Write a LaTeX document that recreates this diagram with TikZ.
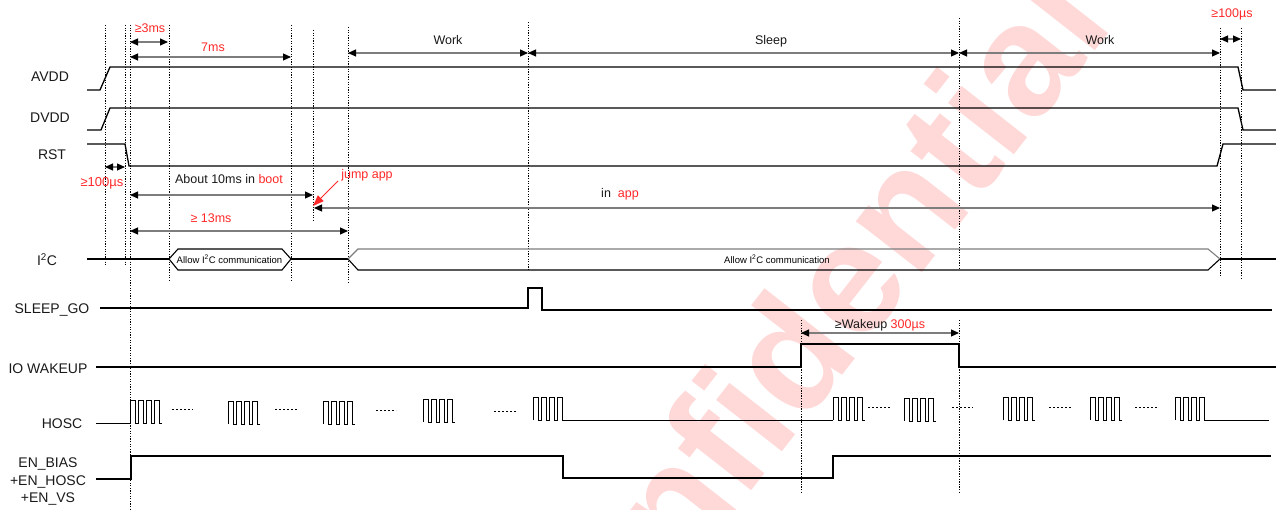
\documentclass[tikz,border=0pt]{standalone}
\usepackage{fontspec}
\setmainfont{Liberation Sans}
\usetikzlibrary{arrows.meta}
\definecolor{myred}{RGB}{255,40,40}
\definecolor{wmcol}{RGB}{255,216,216}
\definecolor{dimgray}{RGB}{125,125,125}
\newcommand\hoscB[3]{\draw[clk] (#1,#2) \foreach \k in {0,1,2,3} { -- (#1+\k*8,#3) -- (#1+\k*8+5,#3) -- (#1+\k*8+5,#2) -- (#1+\k*8+8,#2)};}
\begin{document}
\begin{tikzpicture}[x=1pt,y=-1pt,
  sig/.style={line width=1.3pt,black,line join=miter},
  clk/.style={line width=1pt,black},
  thick2/.style={line width=2.4pt,black},
  vdot/.style={line width=0.8pt,black,dash pattern=on 1.3pt off 1.3pt},
  dots/.style={line width=1pt,black,dash pattern=on 2.2pt off 1.8pt},
  dimarr/.style={draw=dimgray,line width=1.1pt,{Triangle[length=8pt,width=7pt,color=black]}-{Triangle[length=8pt,width=7pt,color=black]}},
  lab/.style={font=\fontsize{14}{16}\selectfont,anchor=base,inner sep=0pt,text=black!90},
  ann/.style={font=\fontsize{12.5}{14}\selectfont,anchor=base,inner sep=0pt,text=black!90},
  rann/.style={ann,text=myred},
  tinyl/.style={font=\fontsize{9.5}{11}\selectfont,anchor=base,inner sep=0pt},
  wmtext/.style={font=\fontsize{158}{158}\selectfont\bfseries,text=wmcol,inner sep=0pt}
]
\useasboundingbox (0,0) rectangle (1276,510);
% watermark
\begin{scope}
\clip (0,0) rectangle (1276,510);
\node[wmtext,rotate=52] (wmk) at (790,350) {Confidential};
\end{scope}

% vertical dotted guides
\draw[vdot] (105,25) -- (105,265);
\draw[vdot] (125,25) -- (125,265);
\draw[vdot] (130,25) -- (130,510);
\draw[vdot] (169,25) -- (169,282);
\draw[vdot] (291,25) -- (291,282);
\draw[vdot] (313,30) -- (313,220);
\draw[vdot] (348,27) -- (348,282);
\draw[vdot] (528,22) -- (528,270);
\draw[vdot] (959,18) -- (959,268);
\draw[vdot] (801,320) -- (801,492);
\draw[vdot] (959,320) -- (959,492);
\draw[vdot] (1220,28) -- (1220,276);
\draw[vdot] (1241,28) -- (1241,278);

% dimension arrows and annotations
\draw[dimarr] (130,42) -- (168,42);
\node[rann] (t3ms) at (150,33) {≥3ms};
\draw[dimarr] (130,57) -- (291,57);
\node[rann] (t7ms) at (213,52) {7ms};
\draw[dimarr] (348,53) -- (528,53);
\node[ann] (work1) at (448,45) {Work};
\draw[dimarr] (528,53) -- (959,53);
\node[ann] (sleep) at (771,45) {Sleep};
\draw[dimarr] (959,53) -- (1220,53);
\node[ann] (work2) at (1100,45) {Work};
\draw[dimarr] (1220,39) -- (1241,39);
\node[rann] (t100r) at (1232,18) {≥100µs};
\draw[dimarr] (105,167) -- (125,167);
\node[rann,font=\fontsize{13}{15}\selectfont] (t100l) at (102,187) {≥100µs};
\draw[dimarr] (130,195) -- (313,195);
\node[ann] (boot) at (229,184) {About 10ms in \textcolor{myred}{boot}};
\draw[dimarr] (314,208) -- (1220,208);
\node[ann] (inapp) at (620,198) {in \ \textcolor{myred}{app}};
\draw[dimarr] (130,231) -- (348,231);
\node[rann] (t13) at (211,223) {≥ 13ms};
\draw[dimarr] (801,333) -- (959,333);
\node[ann] (wake) at (880,328) {≥Wakeup \textcolor{myred}{300µs}};
\node[rann] (jump) at (367,179) {jump app};
\draw[myred,line width=1pt,-{Triangle[length=11pt,width=8pt]}] (338,181) -- (313,206);

% signal names
\node[lab] (avdd) at (50,82) {AVDD};
\node[lab] (dvdd) at (50,123) {DVDD};
\node[lab] (rst) at (52,160) {RST};
\node[lab] (i2c) at (47,266) {I\textsuperscript{2}C};
\node[lab] (slp) at (52,313) {SLEEP\_GO};
\node[lab] (iow) at (48,373) {IO WAKEUP};
\node[lab] (hosc) at (62,428) {HOSC};
\node[lab] (en1) at (48,467) {EN\_BIAS};
\node[lab] (en2) at (48,485) {+EN\_HOSC};
\node[lab] (en3) at (48,502) {+EN\_VS};

% AVDD, DVDD, RST
\draw[sig] (87,90) -- (100,90) -- (110,67) -- (1238,67) -- (1243,90) -- (1276,90);
\draw[sig] (87,130) -- (101,130) -- (110,108) -- (1238,108) -- (1243,130) -- (1276,130);
\draw[sig] (87,144) -- (125,144) -- (129,166) -- (1217,166) -- (1223,144) -- (1276,144);

% I2C
\draw[thick2] (87,259) -- (169,259);
\draw[sig,line width=1.1pt] (169,259) -- (178,249) -- (282,249) -- (291,259) -- (282,270) -- (178,270) -- cycle;
\node[tinyl] (allow1) at (229.5,263.5) {Allow I\textsuperscript{2}C communication};
\draw[thick2] (291,259) -- (348,259);
\draw[sig,line width=1.1pt] (1220,259) -- (1208,270) -- (358,270) -- (348,259);
\draw[line width=1.1pt,dimgray] (348,259) -- (358,249) -- (1208,249) -- (1220,259);
\node[tinyl] (allow2) at (777,263.5) {Allow I\textsuperscript{2}C communication};
\draw[thick2] (1220,259) -- (1276,259);

% SLEEP_GO
\draw[sig] (100,308) -- (528,308) -- (528,288) -- (542,288) -- (542,310) -- (1272,310);
% IO WAKEUP
\draw[sig] (96,367) -- (801,367) -- (801,344) -- (959,344) -- (959,367) -- (1276,367);

% HOSC
\draw[clk] (96,423) -- (130,423);
\hoscB{130}{423}{400}
\hoscB{228}{424}{401}
\hoscB{323}{424}{401}
\hoscB{423}{422}{399}
\hoscB{533}{420}{397}
\draw[clk] (565,420) -- (833,420);
\hoscB{833}{420}{397}
\hoscB{904}{421}{398}
\hoscB{1003}{420}{397}
\hoscB{1090}{420}{397}
\hoscB{1175}{420}{397}
\draw[clk] (1207,420) -- (1269,420);
\foreach \a/\b/\y in {172/193/409, 275/297/409, 376/396/410, 494/516/411, 868/890/407, 952/973/407, 1049/1071/407, 1135/1157/407}
  \draw[dots] (\a,\y) -- (\b,\y);

% EN_BIAS
\draw[sig] (96,479) -- (131,479) -- (131,456) -- (563,456) -- (563,478) -- (833,478) -- (833,456) -- (1271,456);
\end{tikzpicture}
\end{document}
